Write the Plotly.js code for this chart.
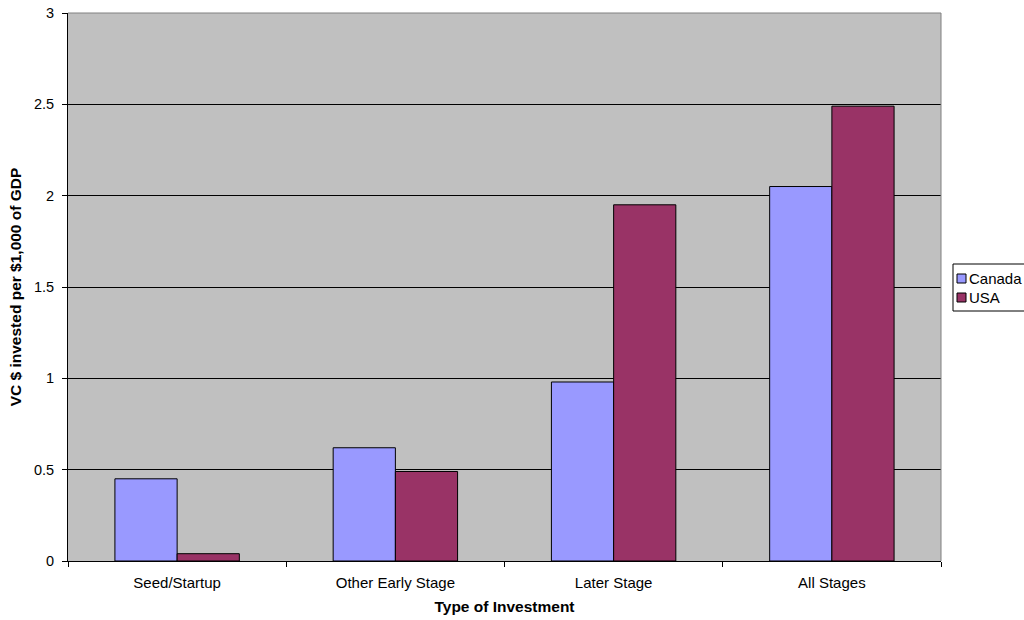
<!DOCTYPE html>
<html>
<head>
<meta charset="utf-8">
<script src="https://cdn.plot.ly/plotly-3.0.1.min.js"></script>
<style>html,body{margin:0;padding:0;background:#fff;}#chart{width:1024px;height:620px;}</style>
</head>
<body>
<div id="chart"></div>
<script>
var categories = ["Seed/Startup", "Other Early Stage", "Later Stage", "All Stages"];
var canadaValues = [0.45, 0.62, 0.98, 2.05];
var usaValues = [0.04, 0.49, 1.95, 2.49];
var seriesNames = ["Canada", "USA"];
var yTickValues = [0, 0.5, 1, 1.5, 2, 2.5, 3];
var yTickLabels = ["0", "0.5", "1", "1.5", "2", "2.5", "3"];

var font = "Arial, 'Liberation Sans', sans-serif";
var colors = ["#9999FF", "#993366"];
var traces = [
  {type: "bar", name: seriesNames[0], x: categories, y: canadaValues,
   marker: {color: colors[0], line: {color: "#000000", width: 1}}},
  {type: "bar", name: seriesNames[1], x: categories, y: usaValues,
   marker: {color: colors[1], line: {color: "#000000", width: 1}}}
];

// plot area in pixels: x 68..941, y 13..561
function px(x) { return (x - 68) / 873; }
function py(y) { return (561 - y) / 548; }

var shapes = [
  {type: "line", xref: "paper", yref: "paper", x0: 0, x1: 1, y0: 1, y1: 1,
   line: {color: "#808080", width: 1}, layer: "above"},
  {type: "line", xref: "paper", yref: "paper", x0: 1, x1: 1, y0: 0, y1: 1,
   line: {color: "#808080", width: 1}, layer: "above"},
  // custom legend box
  {type: "rect", xref: "paper", yref: "paper", x0: px(953), x1: px(1040), y0: py(311), y1: py(264),
   fillcolor: "#ffffff", line: {color: "#000000", width: 1}, layer: "above"},
  {type: "rect", xref: "paper", yref: "paper", x0: px(957), x1: px(966), y0: py(283), y1: py(274),
   fillcolor: colors[0], line: {color: "#000000", width: 1}, layer: "above"},
  {type: "rect", xref: "paper", yref: "paper", x0: px(957), x1: px(966), y0: py(302), y1: py(293),
   fillcolor: colors[1], line: {color: "#000000", width: 1}, layer: "above"}
];
var annotations = [
  {xref: "paper", yref: "paper", x: px(967), y: py(278.5), xanchor: "left", yanchor: "middle",
   text: seriesNames[0], showarrow: false, font: {family: font, size: 15, color: "#000"}},
  {xref: "paper", yref: "paper", x: px(967), y: py(297.5), xanchor: "left", yanchor: "middle",
   text: seriesNames[1], showarrow: false, font: {family: font, size: 15, color: "#000"}}
];

var layout = {
  width: 1024, height: 620,
  margin: {l: 68, r: 83, t: 13, b: 59, autoexpand: false},
  paper_bgcolor: "#ffffff",
  plot_bgcolor: "#C0C0C0",
  barmode: "group",
  bargap: 0.43,
  bargroupgap: 0,
  font: {family: font, size: 15, color: "#000000"},
  showlegend: false,
  xaxis: {
    type: "category",
    tickson: "boundaries",
    ticks: "outside", ticklen: 5, tickcolor: "#000",
    ticklabelstandoff: 8,
    showline: true, linecolor: "#000", linewidth: 1,
    showgrid: false,
    tickfont: {family: font, size: 15},
    title: {text: "<b>Type of Investment</b>", font: {family: font, size: 15.5}, standoff: 11}
  },
  yaxis: {
    range: [0, 3],
    tickvals: yTickValues, ticktext: yTickLabels,
    ticks: "outside", ticklen: 5, tickcolor: "#000",
    ticklabelstandoff: 5,
    showline: true, linecolor: "#000", linewidth: 1,
    showgrid: true, gridcolor: "#000", gridwidth: 1,
    zeroline: false,
    tickfont: {family: font, size: 14.5},
    title: {text: "<b>VC $ invested per $1,000 of GDP</b>", font: {family: font, size: 15.5}, standoff: 8}
  },
  shapes: shapes,
  annotations: annotations
};
Plotly.newPlot("chart", traces, layout, {displayModeBar: false});
</script>
</body>
</html>
